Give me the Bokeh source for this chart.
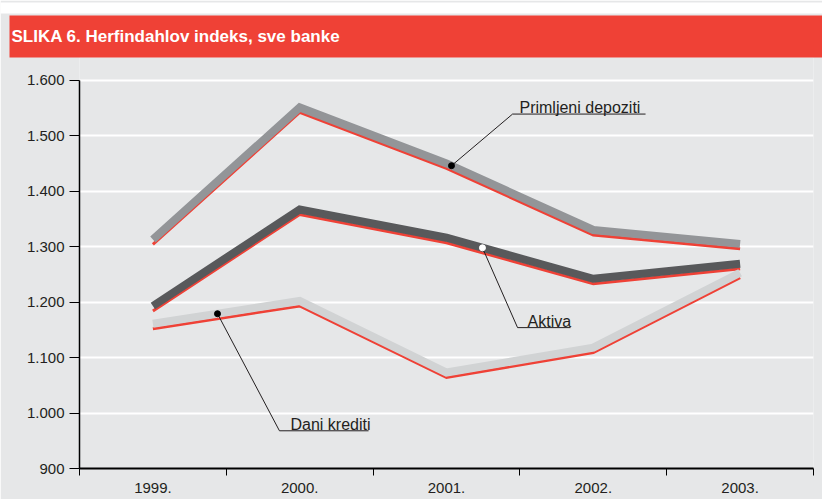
import numpy as np
from bokeh.plotting import figure
from bokeh.models import Range1d, FixedTicker, Title
from bokeh.core.properties import value
from bokeh.transform import dodge
from bokeh.embed import file_html
from bokeh.resources import INLINE

# ---- data ----
years = ["1999.", "2000.", "2001.", "2002.", "2003."]
y_tick_values = [900, 1000, 1100, 1200, 1300, 1400, 1500, 1600]
y_tick_labels = ["900", "1.000", "1.100", "1.200", "1.300", "1.400", "1.500", "1.600"]

primljeni_depoziti = [1313, 1551, 1450, 1330, 1305]
aktiva = [1193, 1367, 1316, 1242, 1269]
dani_krediti = [1161, 1202, 1073, 1118, 1253]

# ---- styles ----
BG = "#e6e7e8"
RED = "#ef4136"
TXT = "#231f20"
FONT = "Liberation Sans"
colors = ["#939598", "#58595b", "#d1d3d4"]

xs = list(range(len(years)))

p = figure(width=822, height=499, output_backend="svg", toolbar_location=None,
           x_range=Range1d(-0.5, 4.5), y_range=Range1d(900, 1641),
           min_border_left=79, min_border_right=9, min_border_bottom=31, min_border_top=0)
p.background_fill_color = BG
p.border_fill_color = BG
p.outline_line_color = None

# outermost: white strip above the red header
p.title = Title(text=" ", align="left", text_font_size="1px",
                background_fill_color="white", standoff=0, offset=-79,
                padding=dict(left=0, right=1000, top=10, bottom=0))
# red header with the chart title
p.add_layout(Title(text="SLIKA 6. Herfindahlov indeks, sve banke", align="left",
                   text_font=FONT, text_font_style="bold",
                   text_font_size="17px", text_color="white",
                   background_fill_color=RED,
                   standoff=0, offset=-70,
                   padding=dict(left=2, right=900, top=11, bottom=12)), "above")

# axes
p.xaxis.ticker = FixedTicker(ticks=xs, minor_ticks=[-0.5, 0.5, 1.5, 2.5, 3.5, 4.5])
p.xaxis.major_label_overrides = {x: y for x, y in zip(xs, years)}
p.xaxis.major_tick_out = 0
p.xaxis.major_tick_in = 0
p.xaxis.minor_tick_out = 7
p.xaxis.minor_tick_in = 0
p.xaxis.minor_tick_line_color = "black"
p.xaxis.axis_line_color = "black"
p.xaxis.axis_line_width = 2
p.xaxis.major_label_standoff = 7

p.yaxis.ticker = FixedTicker(ticks=y_tick_values)
p.yaxis.major_label_overrides = {v: l for v, l in zip(y_tick_values, y_tick_labels)}
p.yaxis.bounds = (900, 1600)
p.yaxis.major_tick_out = 10
p.yaxis.major_tick_in = 0
p.yaxis.minor_tick_line_color = None
p.yaxis.axis_line_color = "black"
p.yaxis.axis_line_width = 1.5
p.yaxis.major_tick_line_color = "black"
p.yaxis.major_label_standoff = 5

for ax in (p.xaxis, p.yaxis):
    ax.major_label_text_font = FONT
    ax.major_label_text_font_size = "15px"
    ax.major_label_text_color = TXT

p.xgrid.visible = False
p.ygrid.grid_line_color = "white"
p.ygrid.grid_line_width = 2

# series: red shadow line + thick grey line
for vals, col in zip([primljeni_depoziti, aktiva, dani_krediti], colors):
    src = dict(x=xs, y=vals)
    p.line(x="x", y=dodge("y", -9), source=src, line_color=RED, line_width=3,
           line_join="miter", line_cap="butt")
    p.line(x="x", y="y", source=src, line_color=col, line_width=8,
           line_join="miter", line_cap="butt")

# annotations with leader lines
ann = [
    # name, series, dot_x, elbow(x,y), underline end x, text(x,y), dot colour
    ("Primljeni depoziti", primljeni_depoziti, 2.034, (2.45, 1539), 3.356, (2.497, 1550), "black"),
    ("Aktiva", aktiva, 2.245, (2.484, 1154), 2.845, (2.552, 1165), "white"),
    ("Dani krediti", dani_krediti, 0.44, (0.862, 968), 1.469, (0.937, 979), "black"),
]
for name, vals, dx, (ex, ey), ux, (tx, ty), dcol in ann:
    dy = float(np.interp(dx, xs, vals))
    p.line([dx, ex, ux], [dy, ey, ey], line_color=TXT, line_width=1)
    p.scatter([dx], [dy], size=6, fill_color=dcol, line_color=dcol)
    p.text([tx], [ty], text=[name], text_font=value(FONT), text_font_size="16px",
           text_color=TXT, text_baseline="alphabetic")

open("out.html", "w").write(file_html(p, INLINE))
